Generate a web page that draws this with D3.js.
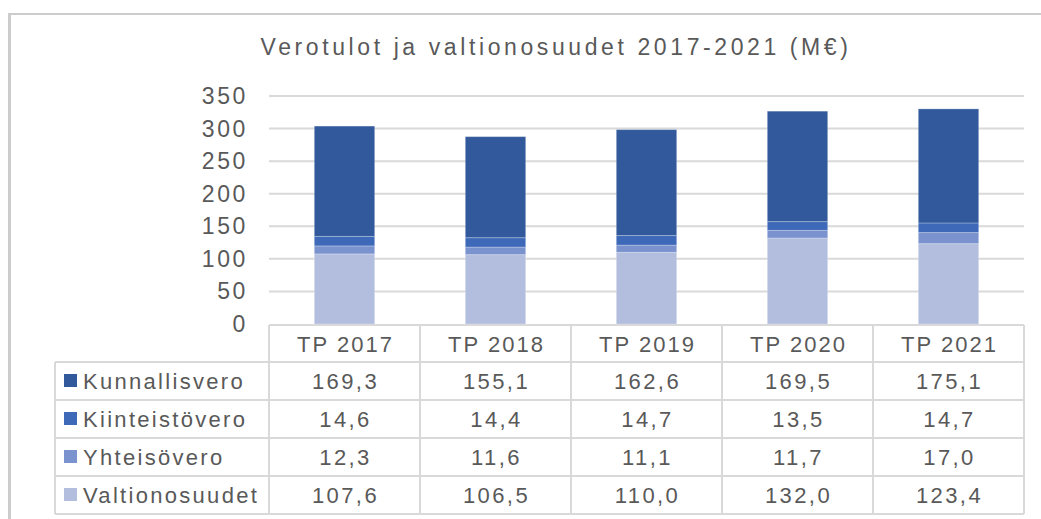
<!DOCTYPE html>
<html>
<head>
<meta charset="utf-8">
<script src="https://cdn.jsdelivr.net/npm/d3@7"></script>
<style>
  body { margin: 0; background: #fff; }
  svg text { font-family: "Liberation Sans", Arial, sans-serif; fill: #595959; }
</style>
</head>
<body>
<div id="chart"></div>
<script>
// Chart data
const years = ['TP 2017', 'TP 2018', 'TP 2019', 'TP 2020', 'TP 2021'];
const seriesNames = ['Kunnallisvero', 'Kiinteistövero', 'Yhteisövero', 'Valtionosuudet'];
const kunnallisvero = [169.3, 155.1, 162.6, 169.5, 175.1];
const kiinteistovero = [14.6, 14.4, 14.7, 13.5, 14.7];
const yhteisovero = [12.3, 11.6, 11.1, 11.7, 17.0];
const valtionosuudet = [107.6, 106.5, 110.0, 132.0, 123.4];
const yTicks = [0, 50, 100, 150, 200, 250, 300, 350];

const seriesValues = {
    'Kunnallisvero': kunnallisvero,
    'Kiinteistövero': kiinteistovero,
    'Yhteisövero': yhteisovero,
    'Valtionosuudet': valtionosuudet
};
const colors = {
    'Kunnallisvero': '#31599B',
    'Kiinteistövero': '#3E69B8',
    'Yhteisövero': '#7A93CF',
    'Valtionosuudet': '#B3BEDF'
};

const width = 1041, height = 519;
const svg = d3.select('#chart').append('svg')
    .attr('width', width)
    .attr('height', height);

// Chart area border (only top and left visible)
svg.append('line').attr('x1', 9.5).attr('x2', 9.5).attr('y1', 13).attr('y2', height)
    .attr('stroke', '#cccccc').attr('stroke-width', 3);
svg.append('line').attr('x1', 8).attr('x2', width).attr('y1', 14).attr('y2', 14)
    .attr('stroke', '#cccccc').attr('stroke-width', 2);

// Title
svg.append('text')
    .attr('x', 556)
    .attr('y', 55)
    .attr('text-anchor', 'middle')
    .style('font-size', '23px')
    .style('letter-spacing', '3.6px')
    .text('Verotulot ja valtionosuudet 2017-2021 (M€)');

// Scales
const plotLeft = 269, plotRight = 1024, plotTop = 96, plotBottom = 324;
const x = d3.scaleBand()
    .domain(years)
    .range([plotLeft, plotRight])
    .paddingInner(0.6)
    .paddingOuter(0.3);
const step = x.step();
const y = d3.scaleLinear()
    .domain([0, 350])
    .range([plotBottom, plotTop]);

// Gridlines
svg.append('g').selectAll('line')
    .data(yTicks.filter(d => d > 0))
    .join('line')
    .attr('x1', plotLeft)
    .attr('x2', plotRight)
    .attr('y1', d => y(d))
    .attr('y2', d => y(d))
    .attr('stroke', '#d9d9d9')
    .attr('stroke-width', 2);

// Y axis labels
svg.append('g').selectAll('text')
    .data(yTicks)
    .join('text')
    .attr('x', 248)
    .attr('y', d => y(d) + 8)
    .attr('text-anchor', 'end')
    .style('font-size', '23px')
    .style('letter-spacing', '2.6px')
    .text(d => d);

// Stacked bars (bottom to top: Valtionosuudet ... Kunnallisvero)
const rows = years.map((yr, i) => {
    const r = { year: yr };
    seriesNames.forEach(s => { r[s] = seriesValues[s][i]; });
    return r;
});
const stackOrder = seriesNames.slice().reverse();
const stacked = d3.stack().keys(stackOrder)(rows);

svg.append('g').selectAll('g')
    .data(stacked)
    .join('g')
    .attr('fill', d => colors[d.key])
    .selectAll('rect')
    .data(d => d)
    .join('rect')
    .attr('x', d => x(d.data.year))
    .attr('width', x.bandwidth())
    .attr('y', d => y(d[1]))
    .attr('height', d => y(d[0]) - y(d[1]))
    .attr('stroke', '#ffffff')
    .attr('stroke-opacity', 0.25)
    .attr('stroke-width', 1);

// Data table
const fi = d3.formatLocale({ decimal: ',', thousands: '\u00a0', grouping: [3], currency: ['', '€'] });
const fmt = fi.format('.1f');
const tableLeft = 55, headerTop = 325, headerBottom = 362, rowH = 38;
const tableBottom = headerBottom + rowH * seriesNames.length;
const lineColor = '#d9d9d9';
const table = svg.append('g');

// horizontal lines
table.append('line')
    .attr('x1', plotLeft).attr('x2', plotRight)
    .attr('y1', headerTop).attr('y2', headerTop)
    .attr('stroke', lineColor).attr('stroke-width', 2);
table.selectAll('.hline')
    .data(d3.range(seriesNames.length + 1))
    .join('line')
    .attr('class', 'hline')
    .attr('x1', tableLeft).attr('x2', plotRight)
    .attr('y1', i => headerBottom + i * rowH)
    .attr('y2', i => headerBottom + i * rowH)
    .attr('stroke', lineColor).attr('stroke-width', 2);

// vertical lines
table.selectAll('.vline')
    .data(d3.range(years.length + 1))
    .join('line')
    .attr('class', 'vline')
    .attr('x1', i => plotLeft + i * step).attr('x2', i => plotLeft + i * step)
    .attr('y1', headerTop).attr('y2', tableBottom)
    .attr('stroke', lineColor).attr('stroke-width', 2);
table.append('line')
    .attr('x1', tableLeft).attr('x2', tableLeft)
    .attr('y1', headerBottom).attr('y2', tableBottom)
    .attr('stroke', lineColor).attr('stroke-width', 2);

// header labels
table.selectAll('.head')
    .data(years)
    .join('text')
    .attr('class', 'head')
    .attr('x', d => x(d) + x.bandwidth() / 2 + 1)
    .attr('y', headerTop + 27)
    .attr('text-anchor', 'middle')
    .style('font-size', '22px')
    .style('letter-spacing', '2px')
    .text(d => d);

// row labels with legend keys
const rowG = table.selectAll('.row')
    .data(seriesNames)
    .join('g')
    .attr('class', 'row')
    .attr('transform', (d, i) => `translate(0,${headerBottom + i * rowH})`);

rowG.append('rect')
    .attr('x', 64)
    .attr('y', rowH / 2 - 7)
    .attr('width', 13)
    .attr('height', 13)
    .attr('fill', d => colors[d]);

rowG.append('text')
    .attr('x', 83)
    .attr('y', rowH / 2 + 8)
    .style('font-size', '22px')
    .style('letter-spacing', '2.3px')
    .text(d => d);

rowG.selectAll('.val')
    .data(s => seriesValues[s].map((v, i) => ({ v, year: years[i] })))
    .join('text')
    .attr('class', 'val')
    .attr('x', d => x(d.year) + x.bandwidth() / 2 + 1)
    .attr('y', rowH / 2 + 8)
    .attr('text-anchor', 'middle')
    .style('font-size', '22px')
    .style('letter-spacing', '2.4px')
    .text(d => fmt(d.v));
</script>
</body>
</html>
